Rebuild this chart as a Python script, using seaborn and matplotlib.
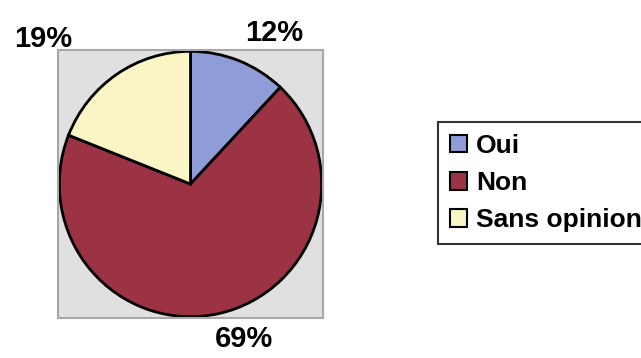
import matplotlib
matplotlib.use("Agg")
import matplotlib.pyplot as plt
import seaborn as sns

# Données
categories = ["Oui", "Non", "Sans opinion"]
pourcentages = [12, 69, 19]
couleurs = ["#8e9cd8", "#9c3344", "#faf5c4"]

sns.set_theme(style="white")
plt.rcParams['font.family'] = ['Liberation Sans', 'DejaVu Sans']

fig = plt.figure(figsize=(6.41, 3.58), dpi=100)
fig.patch.set_facecolor("white")

# zone du camembert (carré gris)
ax = fig.add_axes([0.0905, 0.1117, 0.4134, 0.7486])

wedges, _ = ax.pie(
    pourcentages,
    colors=couleurs,
    startangle=90,
    counterclock=False,
    radius=1.0,
    wedgeprops=dict(edgecolor="black", linewidth=2),
)
for w in wedges:
    w.set_clip_on(False)
ax.set_frame_on(True)
ax.set_facecolor("#e0e0e0")
for s in ax.spines.values():
    s.set_visible(True)
    s.set_color("#a8a8a8")
    s.set_linewidth(1.5)
ax.set_xlim(-1.01, 1.01)
ax.set_ylim(-1.01, 1.01)
ax.set_aspect("auto")
ax.set_xticks([])
ax.set_yticks([])

# étiquettes de pourcentage (position type Excel)
pos_labels = [(0.64, 1.14), (0.41, -1.17), (-1.12, 1.09)]
for (x, y), v in zip(pos_labels, pourcentages):
    ax.text(x, y, f"{v}%", ha="center", va="center", fontsize=21,
            fontweight="bold", color="black", clip_on=False)

leg = fig.legend(
    wedges, categories,
    loc="upper left",
    bbox_to_anchor=(438 / 641, 1 - 122 / 358),
    frameon=True,
    fancybox=False,
    prop=dict(weight="bold", size=19),
    handlelength=0.65,
    handleheight=0.65,
    handletextpad=0.35,
    labelspacing=0.5,
    borderpad=0.45,
    borderaxespad=0,
)
leg.get_frame().set_edgecolor("black")
leg.get_frame().set_linewidth(1.5)
for t in leg.get_texts():
    t.set_color("black")
for h in leg.legend_handles:
    h.set_linewidth(1.5)

fig.savefig("out.png", dpi=100)
